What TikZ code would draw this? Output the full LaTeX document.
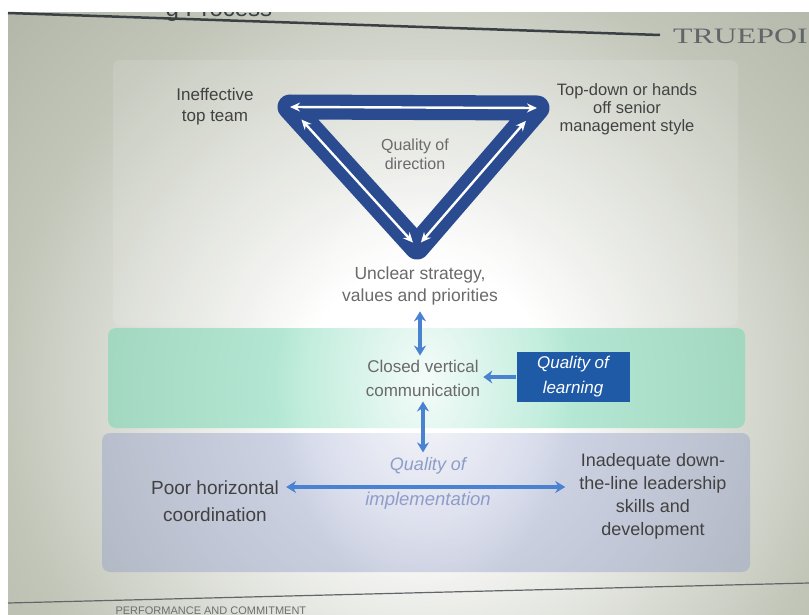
\documentclass[tikz,border=0pt]{standalone}
\usepackage{fontspec}
\setmainfont{Liberation Sans}
\newfontfamily\brandfont{Liberation Serif}
\usetikzlibrary{arrows.meta,fadings}
\definecolor{photoedge}{HTML}{6A7162}
\definecolor{photofar}{HTML}{9AA192}
\definecolor{photomid}{HTML}{C2C6B9}
\definecolor{tealpanel}{HTML}{6FD6B0}
\definecolor{lavpanel}{HTML}{8C98C6}
\definecolor{triblue}{HTML}{2A4B8F}
\definecolor{arrowblue}{HTML}{4A82D2}
\definecolor{learnblue}{HTML}{1F5AA6}
\definecolor{textgray}{HTML}{424242}
\definecolor{spotgray}{HTML}{6A6A6A}
\definecolor{implblue}{HTML}{8E9DC8}
\definecolor{rulegray}{HTML}{3A4043}
\pgfdeclareradialshading{spotlight}{\pgfpointorigin}{color(0bp)=(white); color(5bp)=(white); color(17bp)=(photomid); color(31bp)=(photofar); color(45bp)=(photoedge); color(50bp)=(photoedge)}
\tikzfading[name=glow, inner color=transparent!0, outer color=transparent!100]
\tikzset{cause/.style={text=textgray, align=center, inner sep=0pt, font=\fontsize{17}{21}\selectfont},
spotcause/.style={cause, text=spotgray},
quality/.style={text=implblue, inner sep=0pt, font=\itshape\fontsize{18}{21}\selectfont},
learnbox/.style={fill=learnblue, text=white, align=center, inner sep=2pt, minimum width=113pt, minimum height=50pt, font=\itshape\fontsize{17}{25}\selectfont},
link/.style={arrowblue, line width=3.5pt, {Stealth[length=10pt,width=12pt]}-{Stealth[length=10pt,width=12pt]}},
whitelink/.style={white, line width=2.4pt, {Stealth[length=10pt,width=9pt]}-{Stealth[length=10pt,width=9pt]}}}

\begin{document}
\begin{tikzpicture}[x=1pt, y=-1pt]
\useasboundingbox (0,0) rectangle (809,615);
% photo background
\fill[white] (0,0) rectangle (809,615);
\begin{scope}
\clip (8,12) rectangle (809,615);
\shade[shading=spotlight] (425,390) circle (620pt);
\end{scope}
% header
\node[anchor=base west, text=rulegray, font=\fontsize{24}{24}\selectfont] (heading) at (162,17) {g Process};
\fill[white] (0,0) rectangle (809,12);
\draw[rulegray, line width=2.5pt] (8,13) -- (660,35);
\node[anchor=base west, text=rulegray!80, xscale=1.45, font=\brandfont\fontsize{22}{22}\selectfont] (brand) at (668,44) {TRUEPOI};
% panels
\fill[white, opacity=0.12, rounded corners=8pt] (113,60) rectangle (738,326);
\fill[tealpanel, opacity=0.5, rounded corners=8pt] (108,328) rectangle (745,428);
\fill[lavpanel, opacity=0.4, rounded corners=8pt] (102,433) rectangle (750,572);
\fill[white, opacity=0.85, path fading=glow] (425,380) ellipse (150pt and 220pt);
% footer
\draw[rulegray!80, line width=1.2pt] (8,603) -- (809,583);
\node[anchor=base west, text=rulegray!75, font=\fontsize{11}{11}\selectfont] (footer) at (112,614) {PERFORMANCE AND COMMITMENT};

% quality of direction
\coordinate (tl) at (290,107);
\coordinate (tr) at (537,108);
\coordinate (bt) at (417,247);
\draw[triblue, line width=25pt, line join=round] (tl) -- (tr) -- (bt) -- cycle;
\draw[whitelink] (tl) -- (tr);
\draw[whitelink, shorten <=17pt, shorten >=6pt] (tl) -- (bt);
\draw[whitelink, shorten <=17pt, shorten >=6pt] (tr) -- (bt);
\node[spotcause, font=\fontsize{16}{19}\selectfont] (qdir) at (415,154) {Quality of\\direction};
\node[cause] (ineff) at (215,107) {Ineffective\\top team};
\node[cause, font=\fontsize{16.5}{18}\selectfont] (topdown) at (627,109) {Top-down or hands\\off senior\\management style};
\node[spotcause, font=\fontsize{17.5}{22}\selectfont] (unclear) at (420,286) {Unclear strategy,\\values and priorities};

% quality of learning
\node[spotcause, font=\fontsize{17}{24}\selectfont] (closed) at (423,378) {Closed vertical\\communication};
\node[learnbox] (learn) at (573,377) {Quality of\\learning};
\draw[link, shorten <=6pt, shorten >=4pt] (unclear.south) -- (unclear.south |- closed.north);
\draw[arrowblue, line width=3.5pt, shorten >=3pt, -{Stealth[length=9pt,width=13pt]}] (learn.west) -- (closed.east |- learn.west);

% quality of implementation
\node[quality] (qualof) at (428,466) {Quality of};
\node[quality, font=\itshape\fontsize{18.5}{21}\selectfont] (implem) at (428,501) {implementation};
\node[cause, font=\fontsize{19}{27}\selectfont] (poor) at (215,501) {Poor horizontal\\coordination};
\node[cause, font=\fontsize{18}{23}\selectfont] (inadeq) at (653,496) {Inadequate down-\\the-line leadership\\skills and\\development};
\coordinate (midimpl) at (425,487);
\draw[link, shorten <=5pt, shorten >=5pt] (closed.south) -- (closed.south |- qualof.north);
\draw[link, shorten <=7pt, shorten >=14pt] (poor.east |- midimpl) -- (inadeq.west |- midimpl);
\end{tikzpicture}
\end{document}
